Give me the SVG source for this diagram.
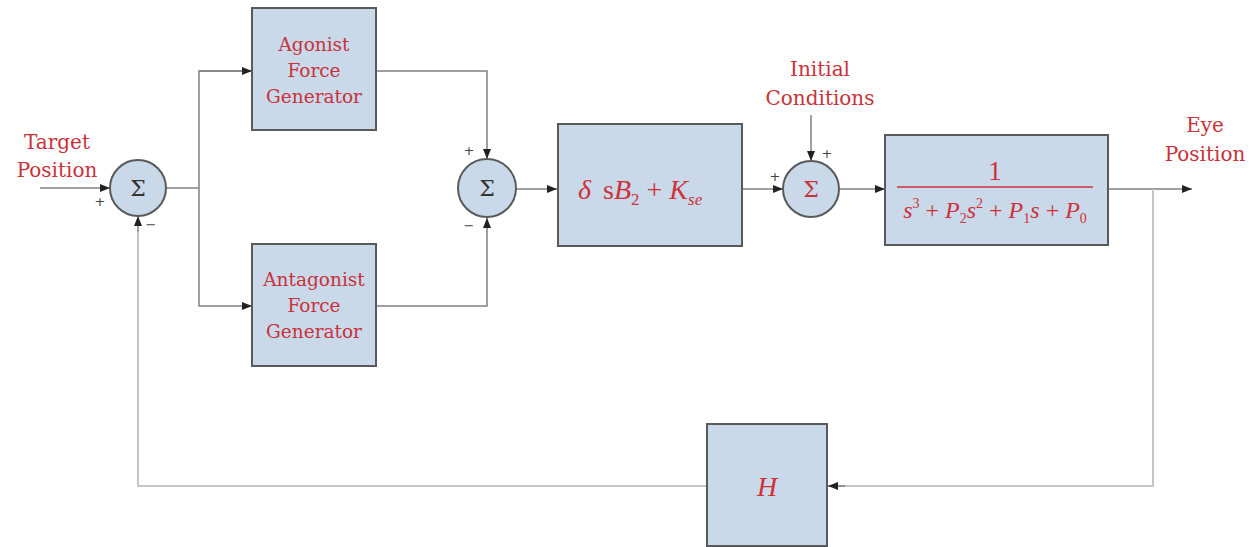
<svg xmlns="http://www.w3.org/2000/svg" width="1249" height="547" viewBox="0 0 1249 547">
<defs>
<marker id="ah" viewBox="0 0 10 10" refX="10" refY="5" markerWidth="10" markerHeight="10" markerUnits="userSpaceOnUse" orient="auto">
<path d="M0,1 L10,5 L0,9 Z" fill="#222"/>
</marker>
</defs>
<style>
.blk{fill:#c9d9e9;stroke:#5a5a5a;stroke-width:2}
.ln{fill:none;stroke:#808080;stroke-width:1.5}
.fb{fill:none;stroke:#c4c4cc;stroke-width:2}
.lbl{font-family:"DejaVu Serif","Liberation Serif",serif;fill:#c8323a;font-size:18.5px;text-anchor:middle}
.out{font-family:"DejaVu Serif","Liberation Serif",serif;fill:#c8323a;font-size:20px;text-anchor:middle}
.math{font-family:"Liberation Serif","DejaVu Serif",serif;fill:#d0303a}
.it{font-style:italic}
.sig{font-family:"DejaVu Serif",serif;font-size:22px;text-anchor:middle;fill:#333}
.sgn{font-family:"DejaVu Sans",sans-serif;font-size:13px;fill:#444;text-anchor:middle}
</style>
<rect width="1249" height="547" fill="#fff"/>
<g id="connectors">
<line class="ln" x1="40" y1="188" x2="110" y2="188" marker-end="url(#ah)"/>
<line class="ln" x1="166" y1="188" x2="199" y2="188"/>
<polyline class="ln" points="252,71 199,71 199,306 252,306" marker-end="url(#ah)"/>
<line class="ln" x1="199" y1="71" x2="252" y2="71" marker-end="url(#ah)"/>
<polyline class="ln" points="376,71 487,71 487,159" marker-end="url(#ah)"/>
<polyline class="ln" points="376,306 487,306 487,218" marker-end="url(#ah)"/>
<line class="ln" x1="516" y1="189" x2="557" y2="189" marker-end="url(#ah)"/>
<line class="ln" x1="742" y1="189" x2="783" y2="189" marker-end="url(#ah)"/>
<line class="ln" x1="811" y1="115" x2="811" y2="161" marker-end="url(#ah)"/>
<line class="ln" x1="839" y1="189" x2="885" y2="189" marker-end="url(#ah)"/>
<line class="ln" x1="1108" y1="189" x2="1192" y2="189" marker-end="url(#ah)"/>
<polyline class="fb" points="1153,189 1153,486 828,486"/>
<line class="ln" x1="845" y1="486" x2="828" y2="486" marker-end="url(#ah)"/>
<polyline class="fb" points="707,486 138,486 138,232"/>
<line class="ln" x1="138" y1="232" x2="138" y2="216" marker-end="url(#ah)"/>
</g>
<g id="sum1">
<circle class="blk" cx="138" cy="188" r="28"/>
<text class="sig" x="138" y="196">Σ</text>
<text class="sgn" x="100" y="206">+</text>
<text class="sgn" x="151" y="229">−</text>
</g>
<g id="target-label">
<text class="out" x="57" y="149">Target</text>
<text class="out" x="57" y="177">Position</text>
</g>
<g id="agonist">
<rect class="blk" x="252" y="8" width="124" height="122"/>
<text class="lbl" x="314" y="51">Agonist</text>
<text class="lbl" x="314" y="77">Force</text>
<text class="lbl" x="314" y="103">Generator</text>
</g>
<g id="antagonist">
<rect class="blk" x="252" y="244" width="124" height="122"/>
<text class="lbl" x="314" y="286">Antagonist</text>
<text class="lbl" x="314" y="312">Force</text>
<text class="lbl" x="314" y="338">Generator</text>
</g>
<g id="sum2">
<circle class="blk" cx="487" cy="188" r="29"/>
<text class="sig" x="487" y="196">Σ</text>
<text class="sgn" x="469" y="155">+</text>
<text class="sgn" x="469" y="230">−</text>
</g>
<g id="muscle">
<rect class="blk" x="558" y="124" width="184" height="122"/>
<text class="math" x="578" y="199" font-size="28"><tspan class="it">δ</tspan><tspan dx="12">s</tspan><tspan class="it">B</tspan><tspan font-size="17" dy="6">2</tspan><tspan dy="-6"> + </tspan><tspan class="it">K</tspan><tspan class="it" font-size="17" dy="6">se</tspan></text>
</g>
<g id="sum3">
<circle class="blk" cx="811" cy="189" r="28"/>
<text class="sig" x="811" y="197" style="fill:#c8323a">Σ</text>
<text class="sgn" x="827" y="158">+</text>
<text class="sgn" x="775" y="181">+</text>
</g>
<g id="initial-label">
<text class="out" x="820" y="76">Initial</text>
<text class="out" x="820" y="105">Conditions</text>
</g>
<g id="plant">
<rect class="blk" x="885" y="135" width="223" height="110"/>
<text class="math" x="995" y="180" font-size="27" text-anchor="middle">1</text>
<line x1="897" y1="187" x2="1093" y2="187" stroke="#d0303a" stroke-width="1.5"/>
<text class="math" x="995" y="218" font-size="24" text-anchor="middle"><tspan class="it">s</tspan><tspan font-size="14" dy="-10">3</tspan><tspan dy="10"> + </tspan><tspan class="it">P</tspan><tspan font-size="14" dy="5">2</tspan><tspan class="it" dy="-5">s</tspan><tspan font-size="14" dy="-10">2</tspan><tspan dy="10"> + </tspan><tspan class="it">P</tspan><tspan font-size="14" dy="5">1</tspan><tspan class="it" dy="-5">s</tspan><tspan> + </tspan><tspan class="it">P</tspan><tspan font-size="14" dy="5">0</tspan></text>
</g>
<g id="eye-label">
<text class="out" x="1205" y="132">Eye</text>
<text class="out" x="1205" y="161">Position</text>
</g>
<g id="feedback-H">
<rect class="blk" x="707" y="424" width="120" height="122"/>
<text class="math it" x="767" y="496" font-size="28" text-anchor="middle">H</text>
</g>
</svg>
